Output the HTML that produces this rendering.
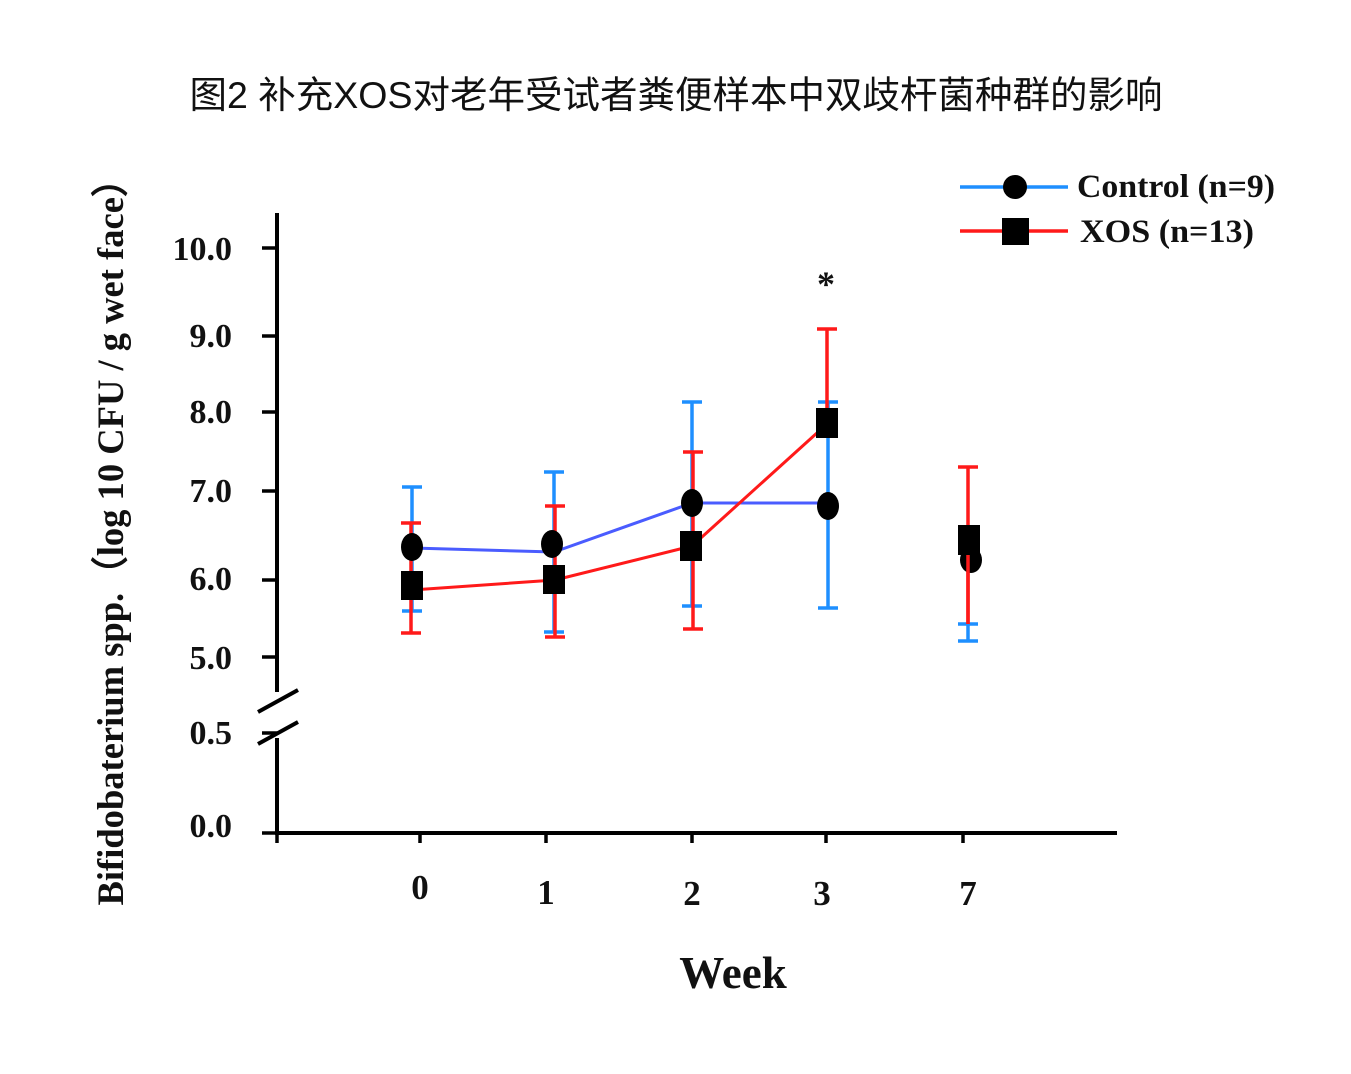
<!DOCTYPE html>
<html><head><meta charset="utf-8"><style>body{margin:0;background:#fff}</style></head><body>
<svg width="1351" height="1069" viewBox="0 0 1351 1069" xmlns="http://www.w3.org/2000/svg">
<rect width="1351" height="1069" fill="#fff"/>
<text x="676" y="108" text-anchor="middle" font-family="Liberation Sans, Noto Sans CJK SC, sans-serif" font-size="37.5" fill="#111">图2 补充XOS对老年受试者粪便样本中双歧杆菌种群的影响</text>
<g font-family="Liberation Serif, serif" font-weight="bold" fill="#111">
<text transform="translate(123,533) rotate(-90)" text-anchor="middle" font-size="37" textLength="745" lengthAdjust="spacingAndGlyphs">Bifidobaterium spp.（log 10 CFU / g wet face）</text>
<g font-size="34" text-anchor="end">
<text x="232" y="260">10.0</text><text x="232" y="347">9.0</text><text x="232" y="423">8.0</text><text x="232" y="502">7.0</text><text x="232" y="590">6.0</text><text x="232" y="669">5.0</text><text x="232" y="744">0.5</text><text x="232" y="837">0.0</text>
</g>
<g font-size="35" text-anchor="middle">
<text x="420" y="899">0</text><text x="546" y="904">1</text><text x="692" y="905">2</text><text x="822" y="905">3</text><text x="968" y="905">7</text>
<text x="733" y="988" font-size="45">Week</text>
<text x="826" y="296" font-size="36">*</text>
</g>
<g font-size="33"><text x="1077" y="197" textLength="198" lengthAdjust="spacingAndGlyphs">Control (n=9)</text><text x="1080" y="242" textLength="174" lengthAdjust="spacingAndGlyphs">XOS (n=13)</text></g>
</g>
<g stroke="#000" stroke-width="4" fill="none">
<line x1="277" y1="213" x2="277" y2="692"/><line x1="277" y1="738" x2="277" y2="835"/>
<line x1="258" y1="712" x2="298" y2="690"/><line x1="258" y1="744" x2="298" y2="722"/>
<line x1="275" y1="833" x2="1117" y2="833"/>
<g stroke-width="3.5"><line x1="262" y1="248" x2="277" y2="248"/><line x1="262" y1="336" x2="277" y2="336"/><line x1="262" y1="412" x2="277" y2="412"/><line x1="262" y1="491" x2="277" y2="491"/><line x1="262" y1="580" x2="277" y2="580"/><line x1="262" y1="657" x2="277" y2="657"/><line x1="262" y1="733" x2="277" y2="733"/><line x1="262" y1="833" x2="277" y2="833"/>
<line x1="277" y1="833" x2="277" y2="843"/><line x1="420" y1="833" x2="420" y2="843"/><line x1="546" y1="833" x2="546" y2="843"/><line x1="692" y1="833" x2="692" y2="843"/><line x1="826" y1="833" x2="826" y2="843"/><line x1="963" y1="833" x2="963" y2="843"/></g>
</g>
<g stroke="#1e8fff" stroke-width="3.5" fill="none">
<path d="M412 487V611M402 487H422M402 611H422"/>
<path d="M554 472V632M544 472H564M544 632H564"/>
<path d="M692 402V606M682 402H702M682 606H702"/>
<path d="M828 402V608M818 402H838M818 608H838"/>
<path d="M968 624V641M958 624H978M958 641H978"/>
<line x1="960" y1="187" x2="1068" y2="187"/>
</g>
<polyline points="412,548 554,552 692,503 828,503" fill="none" stroke="#4a5cff" stroke-width="3"/>
<g stroke="#ff1a1a" stroke-width="3.5" fill="none">
<path d="M411 523V633M401 523H421M401 633H421"/>
<path d="M555 506V637M545 506H565M545 637H565"/>
<path d="M693 452V629M683 452H703M683 629H703"/>
<path d="M827 329V423M817 329H837"/>
<path d="M968 467V624M958 467H978"/>
<polyline points="412,590 555,580 692,546 828,423" stroke-width="3"/>
<line x1="960" y1="231" x2="1068" y2="231"/>
</g>
<g fill="#000">
<ellipse cx="412" cy="547" rx="11" ry="14"/><ellipse cx="552" cy="544" rx="11" ry="14"/><ellipse cx="692" cy="503" rx="11" ry="14"/><ellipse cx="828" cy="506" rx="11" ry="14"/><ellipse cx="971" cy="560" rx="11" ry="13"/>
<rect x="401" y="571" width="22" height="29"/><rect x="543" y="565" width="22" height="29"/><rect x="680" y="531" width="22" height="30"/><rect x="816" y="408" width="22" height="30"/><rect x="958" y="525" width="22" height="30"/>
<circle cx="1015" cy="187" r="12"/><rect x="1002" y="218" width="27" height="27"/>
</g>
<line x1="968" y1="555" x2="968" y2="624" stroke="#ff1a1a" stroke-width="3.5"/>
</svg>
</body></html>
